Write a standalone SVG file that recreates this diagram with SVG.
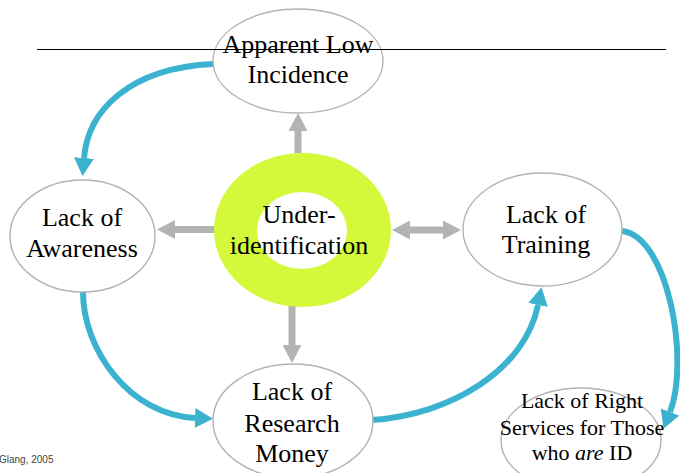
<svg xmlns="http://www.w3.org/2000/svg" width="680" height="473" viewBox="0 0 680 473">
  <style>
    .node { fill: #ffffff; stroke: #b3b3b3; stroke-width: 1.4; }
    .label { font-family: "Liberation Serif", "Times New Roman", serif; font-size: 26px; fill: #000000; text-anchor: middle; }
    .small { font-size: 22px; }
    .cycle { fill: none; stroke: #3bb3d0; stroke-width: 6; }
    .spoke { fill: none; stroke: #b3b3b3; stroke-width: 7; }
  </style>
  <defs>
    <marker id="blueHead" markerUnits="userSpaceOnUse" viewBox="0 0 18 20" markerWidth="18" markerHeight="20" refX="0" refY="10" orient="auto">
      <path d="M0,0 L18,10 L0,20 Z" fill="#3bb3d0"/>
    </marker>
    <marker id="grayHead" markerUnits="userSpaceOnUse" viewBox="0 0 18 19" markerWidth="18" markerHeight="19" refX="0" refY="9.5" orient="auto-start-reverse">
      <path d="M0,0 L18,9.5 L0,19 Z" fill="#b3b3b3"/>
    </marker>
  </defs>

  <rect width="680" height="473" fill="#ffffff"/>

  <!-- connectors -->
  <g id="connectors">
    <!-- cycle of consequences -->
    <path class="cycle" d="M213,64 C130,68 88,110 84,158" marker-end="url(#blueHead)"/>
    <path class="cycle" d="M83,292 C83,350 130,415 195,418" marker-end="url(#blueHead)"/>
    <path class="cycle" d="M372,420 C450,415 525,370 538,305" marker-end="url(#blueHead)"/>
    <path class="cycle" d="M622,231 C668,236 690,360 670,412" marker-end="url(#blueHead)"/>
    <!-- spokes from the centre -->
    <line class="spoke" x1="298" y1="153" x2="298" y2="131" marker-end="url(#grayHead)"/>
    <line class="spoke" x1="215" y1="229.5" x2="175" y2="229.5" marker-end="url(#grayHead)"/>
    <line class="spoke" x1="410" y1="230" x2="443" y2="230" marker-start="url(#grayHead)" marker-end="url(#grayHead)"/>
    <line class="spoke" x1="292" y1="306" x2="292" y2="345" marker-end="url(#grayHead)"/>
  </g>

  <!-- nodes -->
  <g id="apparent-low-incidence">
    <ellipse class="node" cx="298" cy="61" rx="85" ry="52"/>
    <text class="label" x="298" y="53">Apparent Low</text>
    <text class="label" x="298" y="83">Incidence</text>
  </g>

  <g id="under-identification">
    <path fill="#d4f83a" fill-rule="evenodd" d="M214,230 A88.5,77 0 1 0 391,230 A88.5,77 0 1 0 214,230 Z M257,230.5 A45,38.5 0 1 0 347,230.5 A45,38.5 0 1 0 257,230.5 Z"/>
    <text class="label" x="299" y="223">Under-</text>
    <text class="label" x="299" y="254">identification</text>
  </g>

  <g id="lack-of-awareness">
    <ellipse class="node" cx="82.5" cy="236" rx="72.5" ry="56"/>
    <text class="label" x="82" y="226">Lack of</text>
    <text class="label" x="82" y="257">Awareness</text>
  </g>

  <g id="lack-of-training">
    <ellipse class="node" cx="542.5" cy="229.5" rx="79.5" ry="56.5"/>
    <text class="label" x="546" y="223">Lack of</text>
    <text class="label" x="546" y="253">Training</text>
  </g>

  <g id="lack-of-research-money">
    <ellipse class="node" cx="293" cy="421" rx="80" ry="57"/>
    <text class="label" x="292" y="400">Lack of</text>
    <text class="label" x="292" y="432">Research</text>
    <text class="label" x="292" y="462">Money</text>
  </g>

  <g id="lack-of-right-services">
    <ellipse class="node" cx="581" cy="440" rx="80" ry="52"/>
    <text class="label small" x="582" y="408">Lack of Right</text>
    <text class="label small" x="582" y="435">Services for Those</text>
    <text class="label small" x="582" y="460">who <tspan font-style="italic">are</tspan> ID</text>
  </g>

  <!-- title rule -->
  <line x1="37" y1="49.5" x2="666" y2="49.5" stroke="#000000" stroke-width="1"/>

  <!-- source -->
  <text x="-1" y="463" font-family="'Liberation Sans', Arial, sans-serif" font-size="10" fill="#444444">Glang, 2005</text>
</svg>
